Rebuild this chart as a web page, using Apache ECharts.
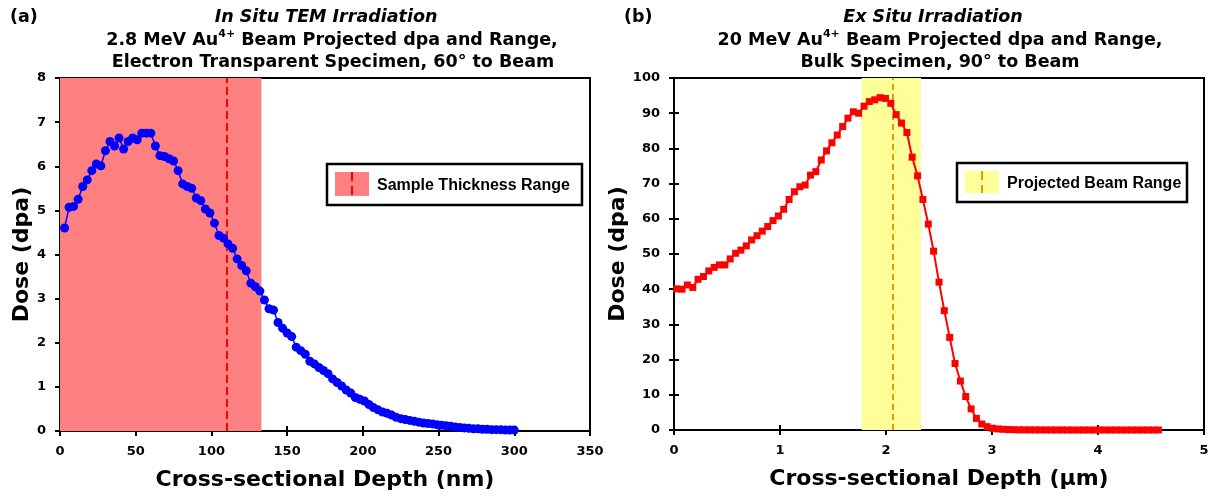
<!DOCTYPE html>
<html>
<head>
<meta charset="utf-8">
<script src="https://cdn.jsdelivr.net/npm/echarts@6/dist/echarts.min.js"></script>
<style>html,body{margin:0;padding:0;background:#fff}#c{width:1213px;height:496px}</style>
</head>
<body>
<div id="c"></div>
<script>
// ---------- Panel (a): in situ TEM, depth in nm ----------
const depthA = [3,6,9,12,15,18,21,24,27,30,33,36,39,42,45,48,51,54,57,60,
  63,66,69,72,75,78,81,84,87,90,93,96,99,102,105,108,111,114,117,120,
  123,126,129,132,135,138,141,144,147,150,153,156,159,162,165,168,171,174,177,180,
  183,186,189,192,195,198,201,204,207,210,213,216,219,222,225,228,231,234,237,240,
  243,246,249,252,255,258,261,264,267,270,273,276,279,282,285,288,291,294,297,300];
const doseA = [4.60,5.07,5.09,5.25,5.54,5.69,5.90,6.05,6.01,6.35,6.56,6.46,6.64,6.39,6.56,6.64,6.60,6.75,6.75,6.75,
  6.46,6.24,6.22,6.17,6.12,5.90,5.60,5.54,5.50,5.28,5.22,5.03,4.94,4.71,4.43,4.37,4.24,4.14,3.90,3.75,
  3.63,3.35,3.27,3.17,2.97,2.77,2.74,2.46,2.33,2.22,2.14,1.90,1.82,1.74,1.58,1.52,1.44,1.37,1.30,1.18,
  1.10,1.02,0.93,0.86,0.76,0.72,0.68,0.60,0.53,0.48,0.43,0.40,0.36,0.31,0.28,0.26,0.24,0.22,0.20,0.18,
  0.17,0.16,0.14,0.13,0.12,0.11,0.09,0.08,0.07,0.06,0.05,0.05,0.04,0.04,0.03,0.03,0.03,0.02,0.02,0.02];
const bandA = [0, 133];      // sample thickness range (nm)
const lineA = 110;           // dashed marker (nm)
const ticksA_x = [0,50,100,150,200,250,300,350];
const ticksA_y = [0,1,2,3,4,5,6,7,8];

// ---------- Panel (b): ex situ, depth in µm ----------
const depthB = [0.025,0.076,0.126,0.177,0.227,0.278,0.328,0.379,0.429,0.480,
  0.530,0.581,0.631,0.682,0.732,0.783,0.833,0.884,0.934,0.985,
  1.035,1.086,1.136,1.187,1.237,1.288,1.338,1.389,1.439,1.490,
  1.540,1.591,1.641,1.692,1.742,1.793,1.843,1.894,1.944,1.995,
  2.045,2.096,2.146,2.197,2.247,2.298,2.348,2.399,2.449,2.500,
  2.550,2.601,2.651,2.702,2.752,2.803,2.853,2.904,2.954,3.005,
  3.055,3.106,3.156,3.207,3.257,3.308,3.358,3.409,3.459,3.510,
  3.560,3.611,3.661,3.712,3.762,3.813,3.863,3.914,3.964,4.015,
  4.065,4.116,4.166,4.217,4.267,4.318,4.368,4.419,4.469,4.520,4.570];
const doseB = [40.1,40.0,41.2,40.5,42.8,43.6,45.2,46.2,46.9,46.9,
  48.6,50.2,51.1,52.3,54.0,55.2,56.5,57.8,59.5,60.8,
  62.7,65.5,67.7,69.1,69.6,72.4,73.4,76.7,79.3,81.6,
  83.8,86.2,88.6,90.4,90.0,92.0,93.3,93.8,94.4,94.2,
  92.8,89.6,87.2,84.5,77.5,72.2,65.5,58.5,50.8,42.0,
  33.9,26.3,18.9,13.9,9.5,6.0,3.3,1.7,0.95,0.5,
  0.3,0.2,0.12,0.08,0.05,0.04,0.03,0.02,0.02,0.01,
  0.01,0.01,0.01,0,0,0,0,0,0,0,
  0,0,0,0,0,0,0,0,0,0,0];
const bandB = [1.77, 2.33];  // projected beam range (µm)
const lineB = 2.06;
const ticksB_x = [0,1,2,3,4,5];
const ticksB_y = [0,10,20,30,40,50,60,70,80,90,100];

const FD = '"DejaVu Sans", Verdana, sans-serif';
const FL = '"Liberation Sans", Arial, sans-serif';
const chart = echarts.init(document.getElementById('c'), null, {renderer: 'canvas'});

function axisPair(kind, gridIndex, min, max, interval, name, nameGap) {
  const main = {
    type: 'value', gridIndex, min, max, interval,
    position: kind === 'x' ? 'bottom' : 'left',
    name, nameLocation: 'middle', nameGap,
    nameTextStyle: {fontFamily: FD, fontWeight: 'bold', fontSize: 22, color: '#000'},
    axisLine: {show: true, onZero: false, lineStyle: {color: '#000', width: 2}},
    axisTick: {show: true, inside: false, length: 5, lineStyle: {color: '#000', width: 2}},
    axisLabel: {fontFamily: FD, fontWeight: 'bold', fontSize: 13, color: '#000', margin: 14},
    splitLine: {show: false}
  };
  const dup = {
    type: 'value', gridIndex, min, max, interval,
    position: kind === 'x' ? 'bottom' : 'left',
    axisLine: {show: false},
    axisTick: {show: true, inside: true, length: 5, lineStyle: {color: '#000', width: 2}},
    axisLabel: {show: false}, splitLine: {show: false}
  };
  return [main, dup];
}

const xA = axisPair('x', 0, 0, 350, 50, 'Cross-sectional Depth (nm)', 38);
const yA = axisPair('y', 0, 0, 8, 1, 'Dose (dpa)', 27);
const xB = axisPair('x', 1, 0, 5, 1, 'Cross-sectional Depth (\u00b5m)', 38);
const yB = axisPair('y', 1, 0, 100, 10, 'Dose (dpa)', 36);

const TS = 17.5;
const titleRich = {
  b: {fontFamily: FD, fontWeight: 'bold', fontSize: TS, color: '#000', lineHeight: 22},
  s: {fontFamily: FD, fontWeight: 'bold', fontSize: 11, color: '#000', lineHeight: 22, verticalAlign: 'top', padding: [0, 0, 8, 0]}
};
function txt(x, y, text, opts) {
  return {type: 'text', x, y, silent: true, style: Object.assign({
    text, fontFamily: FD, fontWeight: 'bold', fontSize: TS, fill: '#000', align: 'center', verticalAlign: 'middle'
  }, opts || {})};
}
function legendBox(x, y, w, h, swatchColor, dashColor, label) {
  return [
    {type: 'rect', shape: {x, y, width: w, height: h}, style: {fill: '#fff', stroke: '#000', lineWidth: 2.5}, z: 50},
    {type: 'rect', shape: {x: x + 8, y: y + 8, width: 34, height: h - 17}, style: {fill: swatchColor}, z: 51},
    {type: 'line', shape: {x1: x + 25, y1: y + 8, x2: x + 25, y2: y + h - 9}, style: {stroke: dashColor, lineWidth: 2, lineDash: [9, 5]}, z: 52},
    {type: 'text', x: x + 50, y: y + h / 2 + 1, z: 52, style: {text: label, fontFamily: FL, fontWeight: 'bold', fontSize: 16, fill: '#000', align: 'left', verticalAlign: 'middle'}}
  ];
}

const option = {
  animation: false,
  backgroundColor: '#fff',
  grid: [
    {left: 60, top: 78, width: 530, height: 353, show: true, borderColor: '#000', borderWidth: 2, containLabel: false},
    {left: 674, top: 78, width: 530, height: 352, show: true, borderColor: '#000', borderWidth: 2, containLabel: false}
  ],
  xAxis: [xA[0], xA[1], xB[0], xB[1]],
  yAxis: [yA[0], yA[1], yB[0], yB[1]],
  series: [
    {
      type: 'line', xAxisIndex: 0, yAxisIndex: 0, data: [], z: 1, silent: true,
      markArea: {silent: true, itemStyle: {color: '#ff8080', opacity: 1}, data: [[{xAxis: bandA[0]}, {xAxis: bandA[1]}]]},
      markLine: {silent: true, symbol: 'none', label: {show: false}, lineStyle: {color: '#ff0000', width: 2, type: [8, 4]}, data: [{xAxis: lineA}]}
    },
    {
      type: 'line', xAxisIndex: 0, yAxisIndex: 0, z: 5,
      data: depthA.map((d, i) => [d, doseA[i]]),
      symbol: 'circle', symbolSize: 9, showAllSymbol: true,
      lineStyle: {color: '#0000ff', width: 1.5}, itemStyle: {color: '#0000ff'}
    },
    {
      type: 'line', xAxisIndex: 2, yAxisIndex: 2, data: [], z: 1, silent: true,
      markArea: {silent: true, itemStyle: {color: '#ffff99', opacity: 1}, data: [[{xAxis: bandB[0]}, {xAxis: bandB[1]}]]},
      markLine: {silent: true, symbol: 'none', label: {show: false}, lineStyle: {color: '#e0a000', width: 2, type: [6, 4]}, data: [{xAxis: lineB}]}
    },
    {
      type: 'line', xAxisIndex: 2, yAxisIndex: 2, z: 5,
      data: depthB.map((d, i) => [d, doseB[i]]),
      symbol: 'rect', symbolSize: 7, showAllSymbol: true,
      lineStyle: {color: '#ff0000', width: 2}, itemStyle: {color: '#ff0000'}
    }
  ],
  graphic: [].concat(
    [
      txt(10, 17, '(a)', {align: 'left'}),
      txt(326, 17, 'In Situ TEM Irradiation', {fontStyle: 'italic'}),
      txt(332, 40, '{b|2.8 MeV Au}{s|4+}{b| Beam Projected dpa and Range,}', {rich: titleRich}),
      txt(333, 62, 'Electron Transparent Specimen, 60\u00b0 to Beam'),
      txt(624, 17, '(b)', {align: 'left'}),
      txt(933, 17, 'Ex Situ Irradiation', {fontStyle: 'italic'}),
      txt(940, 40, '{b|20 MeV Au}{s|4+}{b| Beam Projected dpa and Range,}', {rich: titleRich}),
      txt(940, 62, 'Bulk Specimen, 90\u00b0 to Beam')
    ],
    legendBox(327, 164, 255, 41, '#ff8080', '#ff0000', 'Sample Thickness Range'),
    legendBox(957, 163, 230, 39, '#ffff99', '#e0a000', 'Projected Beam Range')
  )
};
chart.setOption(option);
</script>
</body>
</html>
